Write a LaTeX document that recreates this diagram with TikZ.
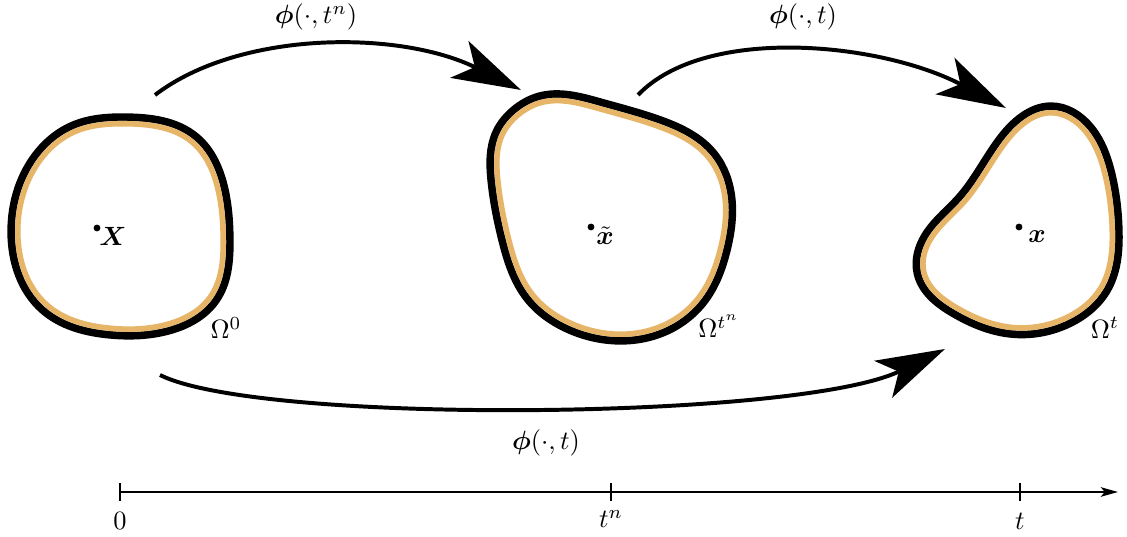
\documentclass[tikz,border=0pt]{standalone}
\usepackage{amsmath,bm}
\usetikzlibrary{arrows.meta,hobby}
\definecolor{rim}{RGB}{230,181,104}
\tikzset{
  bigarrow/.style={line width=1.5pt, -{Stealth[length=26pt, width=15.5pt, inset=6.5pt]}},
  axisline/.style={line width=0.8pt, -{Stealth[length=6.5pt, width=3.6pt, inset=1.5pt]}},
  tick/.style={line width=0.8pt},
  lbl/.style={inner sep=0pt, font=\normalsize},
  pt/.style={circle, fill=black, inner sep=0pt, minimum size=2.6pt},
  hob/.style={use Hobby shortcut, closed=true}
}
\def\blobA{(127,121) .. (194,140) .. (221,190) .. (226,240) .. (213,298) .. (168,327) .. (110,331) .. (45,307) .. (15,233) .. (34,164) .. (74,129)}
\def\blobB{(540,100) .. (600,106) .. (660,124) .. (711,156) .. (728,200) .. (723,250) .. (702,298) .. (662,329) .. (620,337) .. (570,326) .. (530,296) .. (506,240) .. (495,180) .. (500,133) .. (516,113)}
\def\blobC{(1050,110) .. (1088,130) .. (1108,175) .. (1115,230) .. (1104,288) .. (1068,320) .. (1010,330) .. (955,310) .. (921,272) .. (928,238) .. (962,200) .. (1000,145) .. (1025,119)}
\newcommand{\drawblob}[1]{%
  \draw[hob, line width=5.8pt, line join=round] #1;
  \fill[hob, white] #1;
  \begin{scope}
    \clip[hob] #1;
    \draw[hob, rim, line width=4.2pt] #1;
  \end{scope}}
\begin{document}
\begin{tikzpicture}[x=0.013310cm, y=-0.013310cm]
\useasboundingbox (0,0) rectangle (1127,537);
% domains
\drawblob{\blobA}
\drawblob{\blobB}
\drawblob{\blobC}
% points and labels
\node[pt] (p0) at (97,228) {};
\node[lbl] (X) at (113,236) {$\bm{X}$};
\node[pt] (p1) at (591,227) {};
\node[lbl] (xt) at (605,236) {$\tilde{\bm{x}}$};
\node[pt] (p2) at (1019,227) {};
\node[lbl] (x) at (1037,237) {$\bm{x}$};
\node[lbl] (O0) at (226,328) {$\Omega^0$};
\node[lbl] (O1) at (719,326) {$\Omega^{t^n}$};
\node[lbl] (O2) at (1105,328) {$\Omega^t$};
% mapping arrows
\coordinate (a1s) at (155,95);
\coordinate (a1e) at (521,90);
\coordinate (a2s) at (638,95);
\coordinate (a2e) at (1006,108);
\coordinate (a3s) at (160,375);
\coordinate (a3e) at (945,349);
\draw[bigarrow] (a1s) .. controls (240,30) and (400,30) .. (a1e);
\draw[bigarrow] (a2s) .. controls (705,25) and (880,42) .. (a2e);
\draw[bigarrow] (a3s) .. controls (260,425) and (800,420) .. (a3e);
\node[lbl] (m1) at (316,17) {$\bm{\phi}(\cdot,t^n)$};
\node[lbl] (m2) at (803,17) {$\bm{\phi}(\cdot,t)$};
\node[lbl] (m3) at (546,443) {$\bm{\phi}(\cdot,t)$};
% time axis
\coordinate (ax0) at (120,492);
\coordinate (ax1) at (1118,492);
\draw[axisline] (ax0) -- (ax1);
\draw[tick] (120,483) -- (120,501);
\draw[tick] (611,483) -- (611,501);
\draw[tick] (1020,483) -- (1020,501);
\node[lbl] (t0) at (120,521) {$0$};
\node[lbl] (tn) at (611,519) {$t^n$};
\node[lbl] (tt) at (1020,521) {$t$};
\end{tikzpicture}
\end{document}
